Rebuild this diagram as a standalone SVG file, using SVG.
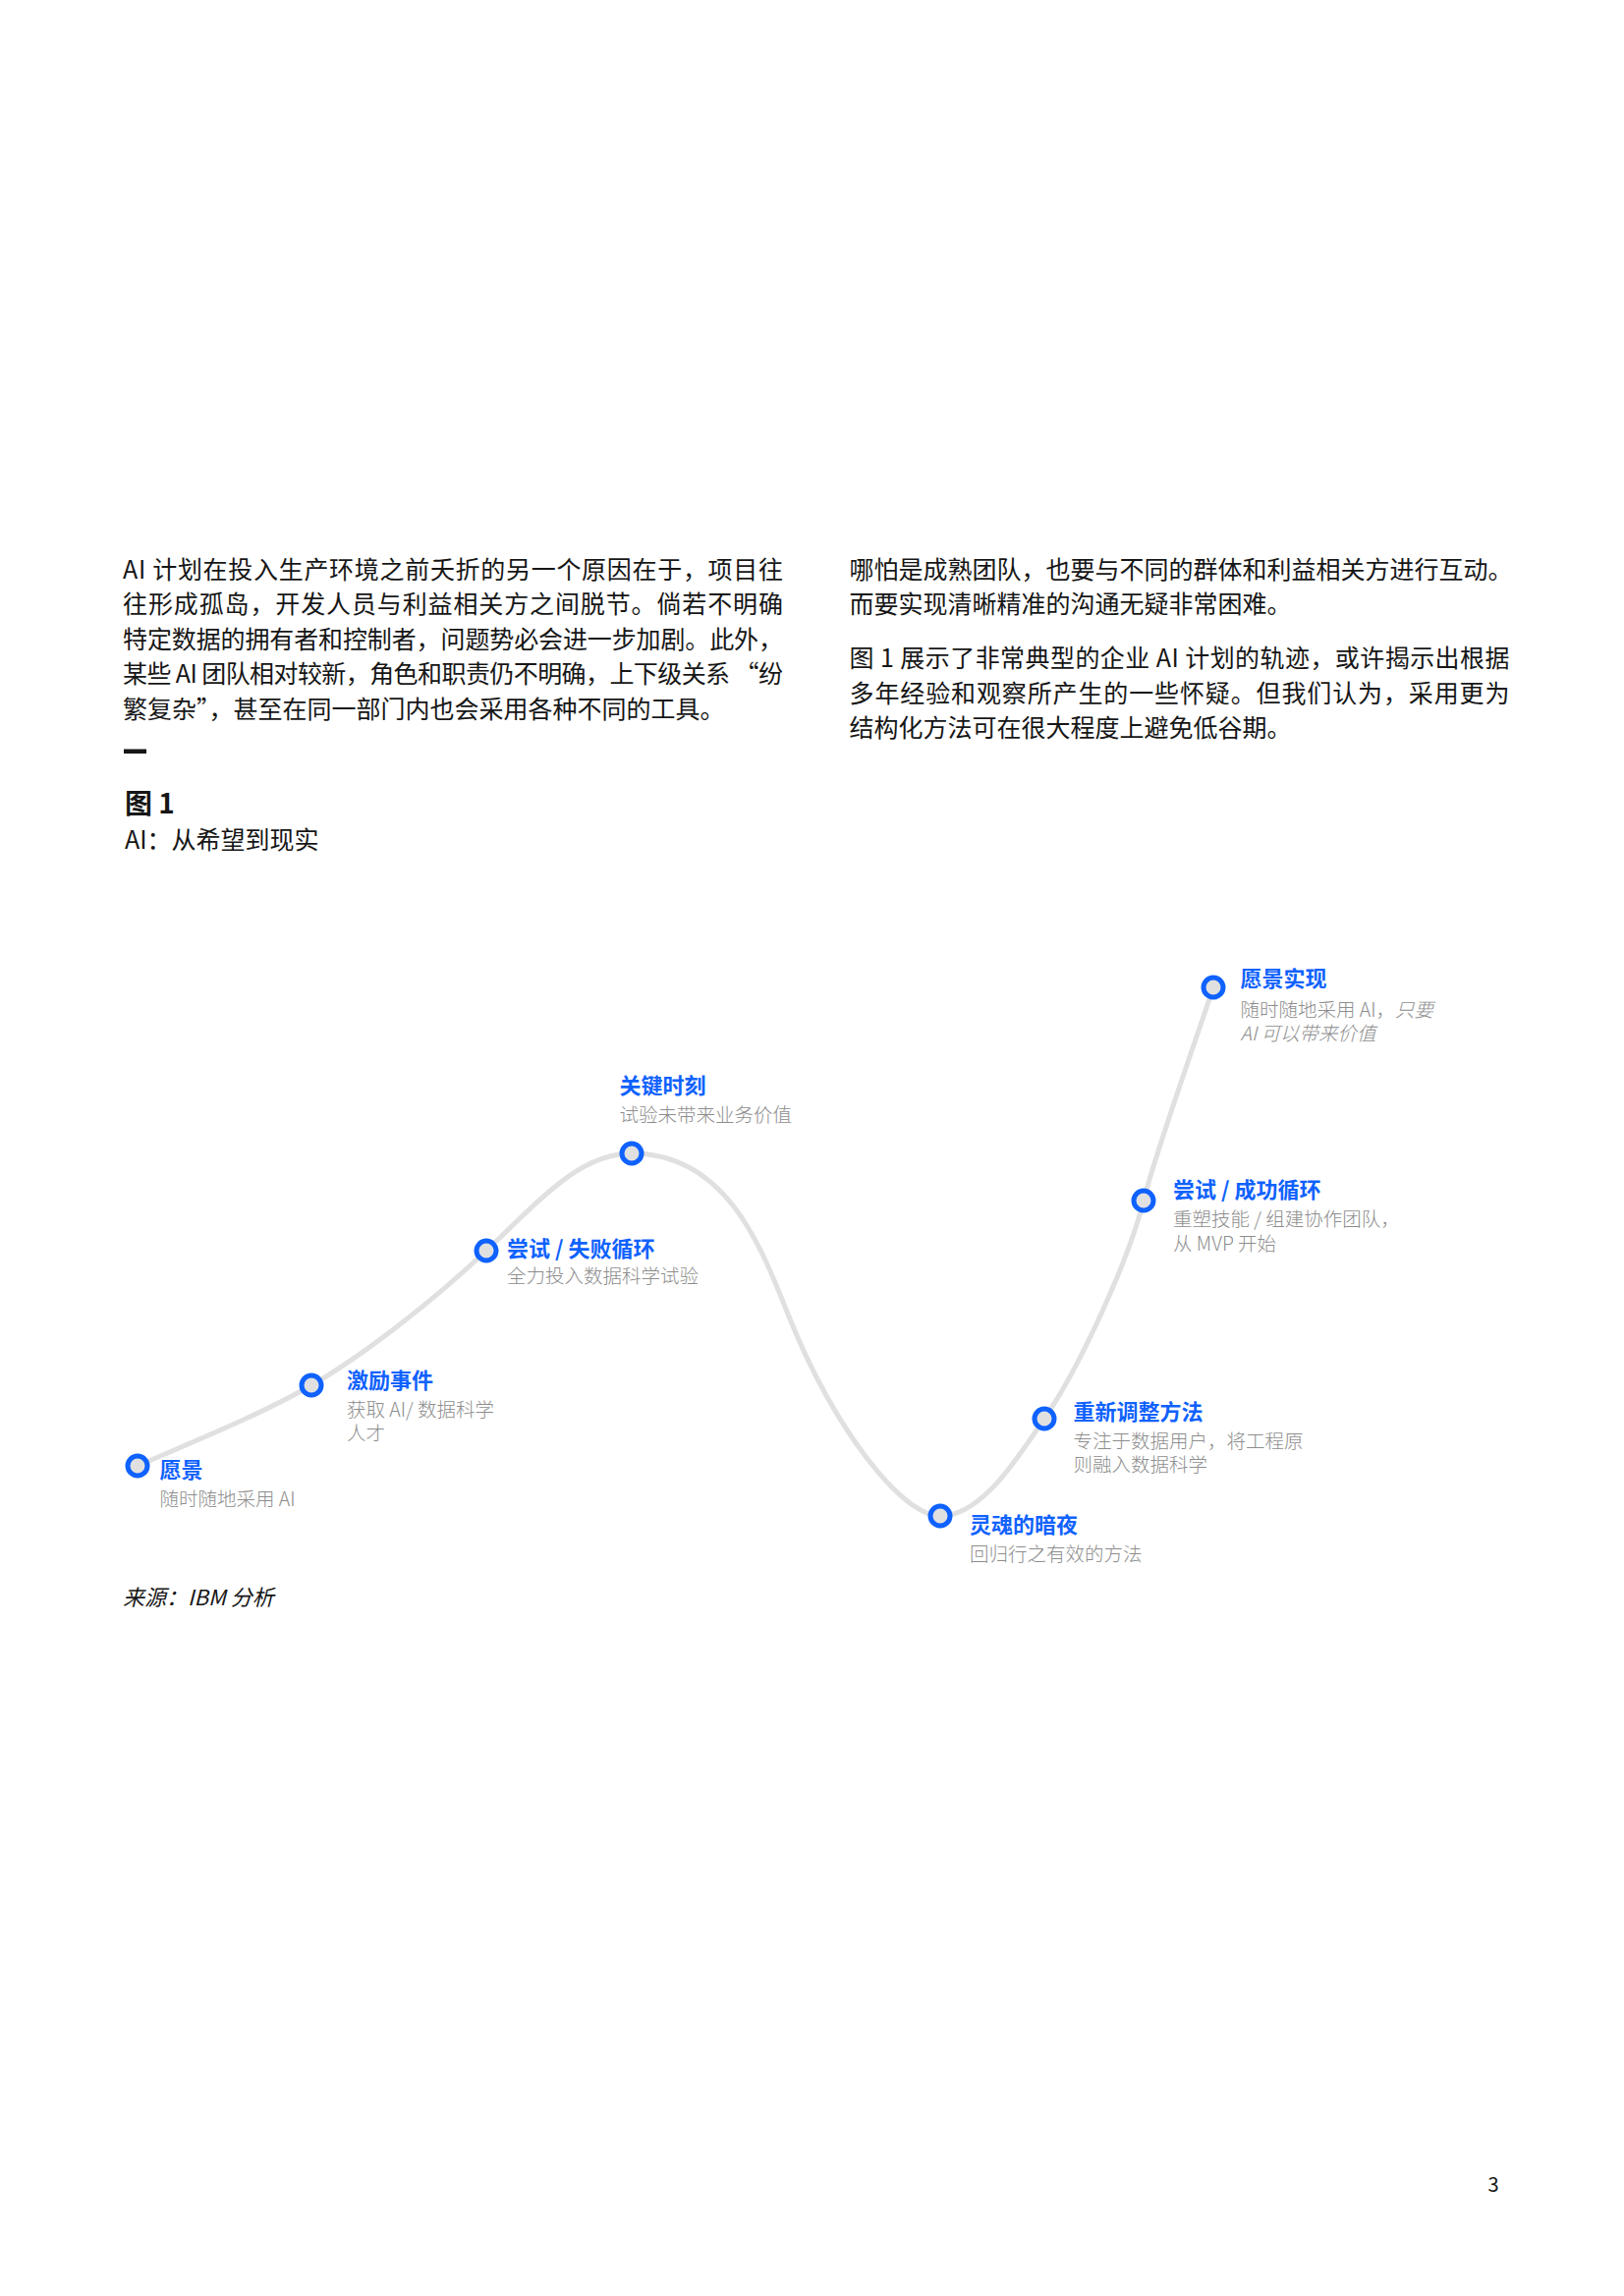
<svg xmlns="http://www.w3.org/2000/svg" width="1653" height="2337" viewBox="0 0 1653 2337">
<style>
  .body { font-family: "Noto Sans CJK SC", "Noto Sans", sans-serif; font-size: 25px; fill: #161616; font-weight: 400; }
  .fig { font-family: "Noto Sans CJK SC", "Noto Sans", sans-serif; font-size: 28px; fill: #161616; font-weight: 700; }
  .title { font-family: "Noto Sans CJK SC", "Noto Sans", sans-serif; font-size: 22px; fill: #0f62fe; font-weight: 700; }
  .sub { font-family: "Noto Sans CJK SC", "Noto Sans", sans-serif; font-size: 19.5px; fill: #8d8d8d; font-weight: 300; }
  .src { font-family: "Noto Sans CJK SC", "Noto Sans", sans-serif; font-size: 22px; fill: #161616; font-style: italic; }
  .it { font-style: italic; }
  .dot { fill: #e0e0e0; stroke: #0f62fe; stroke-width: 5; }
  .curve { fill: none; stroke: #e0e0e0; stroke-width: 5; stroke-linecap: round; }
</style>
<rect width="1653" height="2337" fill="#ffffff"/>

<g id="text-left">
  <text class="body" x="125" y="588.5" textLength="672" lengthAdjust="spacing">AI 计划在投入生产环境之前夭折的另一个原因在于，项目往</text>
  <text class="body" x="125" y="624" textLength="672" lengthAdjust="spacing">往形成孤岛，开发人员与利益相关方之间脱节。倘若不明确</text>
  <text class="body" x="125" y="659.7" textLength="672" lengthAdjust="spacing">特定数据的拥有者和控制者，问题势必会进一步加剧。此外，</text>
  <text class="body" x="125" y="695.3" textLength="672" lengthAdjust="spacing">某些 AI 团队相对较新，角色和职责仍不明确，上下级关系 “纷</text>
  <text class="body" x="125" y="731">繁复杂”，甚至在同一部门内也会采用各种不同的工具。</text>
</g>

<g id="text-right">
  <text class="body" x="864.5" y="588.5">哪怕是成熟团队，也要与不同的群体和利益相关方进行互动。</text>
  <text class="body" x="864.5" y="624">而要实现清晰精准的沟通无疑非常困难。</text>
  <text class="body" x="864.5" y="679" textLength="672" lengthAdjust="spacing">图 1 展示了非常典型的企业 AI 计划的轨迹，或许揭示出根据</text>
  <text class="body" x="864.5" y="714.6" textLength="672" lengthAdjust="spacing">多年经验和观察所产生的一些怀疑。但我们认为，采用更为</text>
  <text class="body" x="864.5" y="750">结构化方法可在很大程度上避免低谷期。</text>
</g>

<g id="figure-heading">
  <rect x="126" y="762.5" width="23" height="4.5" fill="#161616"/>
  <text class="fig" x="127" y="827.5">图 1</text>
  <text class="body" x="127" y="863.5">AI：从希望到现实</text>
</g>

<g id="connectors">
  <path class="curve" d="M140,1492 C200,1466 265,1440 317,1410"/>
  <path class="curve" d="M317,1410 C369,1380 440,1325 495,1273"/>
  <path class="curve" d="M495,1273 C550,1221 590,1174 643,1174"/>
  <path class="curve" d="M643,1174 C740,1174 775,1270 803,1340"/>
  <path class="curve" d="M803,1340 C848,1452 917,1543 957,1543"/>
  <path class="curve" d="M957,1543 C1000,1543 1037,1482 1063,1444"/>
  <path class="curve" d="M1063,1444 C1100,1390 1149,1282 1164,1222"/>
  <path class="curve" d="M1164,1222 C1176,1174 1214,1068 1235,1005"/>
</g>

<g id="node-vision">
  <circle class="dot" cx="140" cy="1492" r="10"/>
  <text class="title" x="162.5" y="1503.5">愿景</text>
  <text class="sub" x="162.5" y="1532.5">随时随地采用 AI</text>
</g>

<g id="node-trigger">
  <circle class="dot" cx="317" cy="1410" r="10"/>
  <text class="title" x="353" y="1412.5">激励事件</text>
  <text class="sub" x="353" y="1441.5">获取 AI/ 数据科学<tspan x="353" dy="24">人才</tspan></text>
</g>

<g id="node-try-fail">
  <circle class="dot" cx="495" cy="1273" r="10"/>
  <text class="title" x="516" y="1278.5">尝试 / 失败循环</text>
  <text class="sub" x="516" y="1305.5">全力投入数据科学试验</text>
</g>

<g id="node-moment">
  <circle class="dot" cx="643" cy="1174" r="10"/>
  <text class="title" x="630.5" y="1113">关键时刻</text>
  <text class="sub" x="630.5" y="1141.5">试验未带来业务价值</text>
</g>

<g id="node-dark-night">
  <circle class="dot" cx="957" cy="1543" r="10"/>
  <text class="title" x="987" y="1560">灵魂的暗夜</text>
  <text class="sub" x="987" y="1589">回归行之有效的方法</text>
</g>

<g id="node-readjust">
  <circle class="dot" cx="1063" cy="1444" r="10"/>
  <text class="title" x="1092.5" y="1445">重新调整方法</text>
  <text class="sub" x="1092.5" y="1474">专注于数据用户，将工程原<tspan x="1092.5" dy="24">则融入数据科学</tspan></text>
</g>

<g id="node-try-success">
  <circle class="dot" cx="1164" cy="1222" r="10"/>
  <text class="title" x="1194" y="1218.5">尝试 / 成功循环</text>
  <text class="sub" x="1194" y="1247.5">重塑技能 / 组建协作团队，<tspan x="1194" dy="25">从 MVP 开始</tspan></text>
</g>

<g id="node-vision-realized">
  <circle class="dot" cx="1235" cy="1005" r="10"/>
  <text class="title" x="1262.5" y="1004">愿景实现</text>
  <text class="sub" x="1262.5" y="1034.5">随时随地采用 AI，<tspan class="it">只要</tspan><tspan class="it" x="1262.5" dy="24">AI 可以带来价值</tspan></text>
</g>

<g id="source">
  <text class="src" x="125" y="1634">来源：IBM 分析</text>
</g>

<g id="page-number">
  <text class="body" x="1520" y="2231" text-anchor="middle" style="font-size:20px">3</text>
</g>
</svg>
